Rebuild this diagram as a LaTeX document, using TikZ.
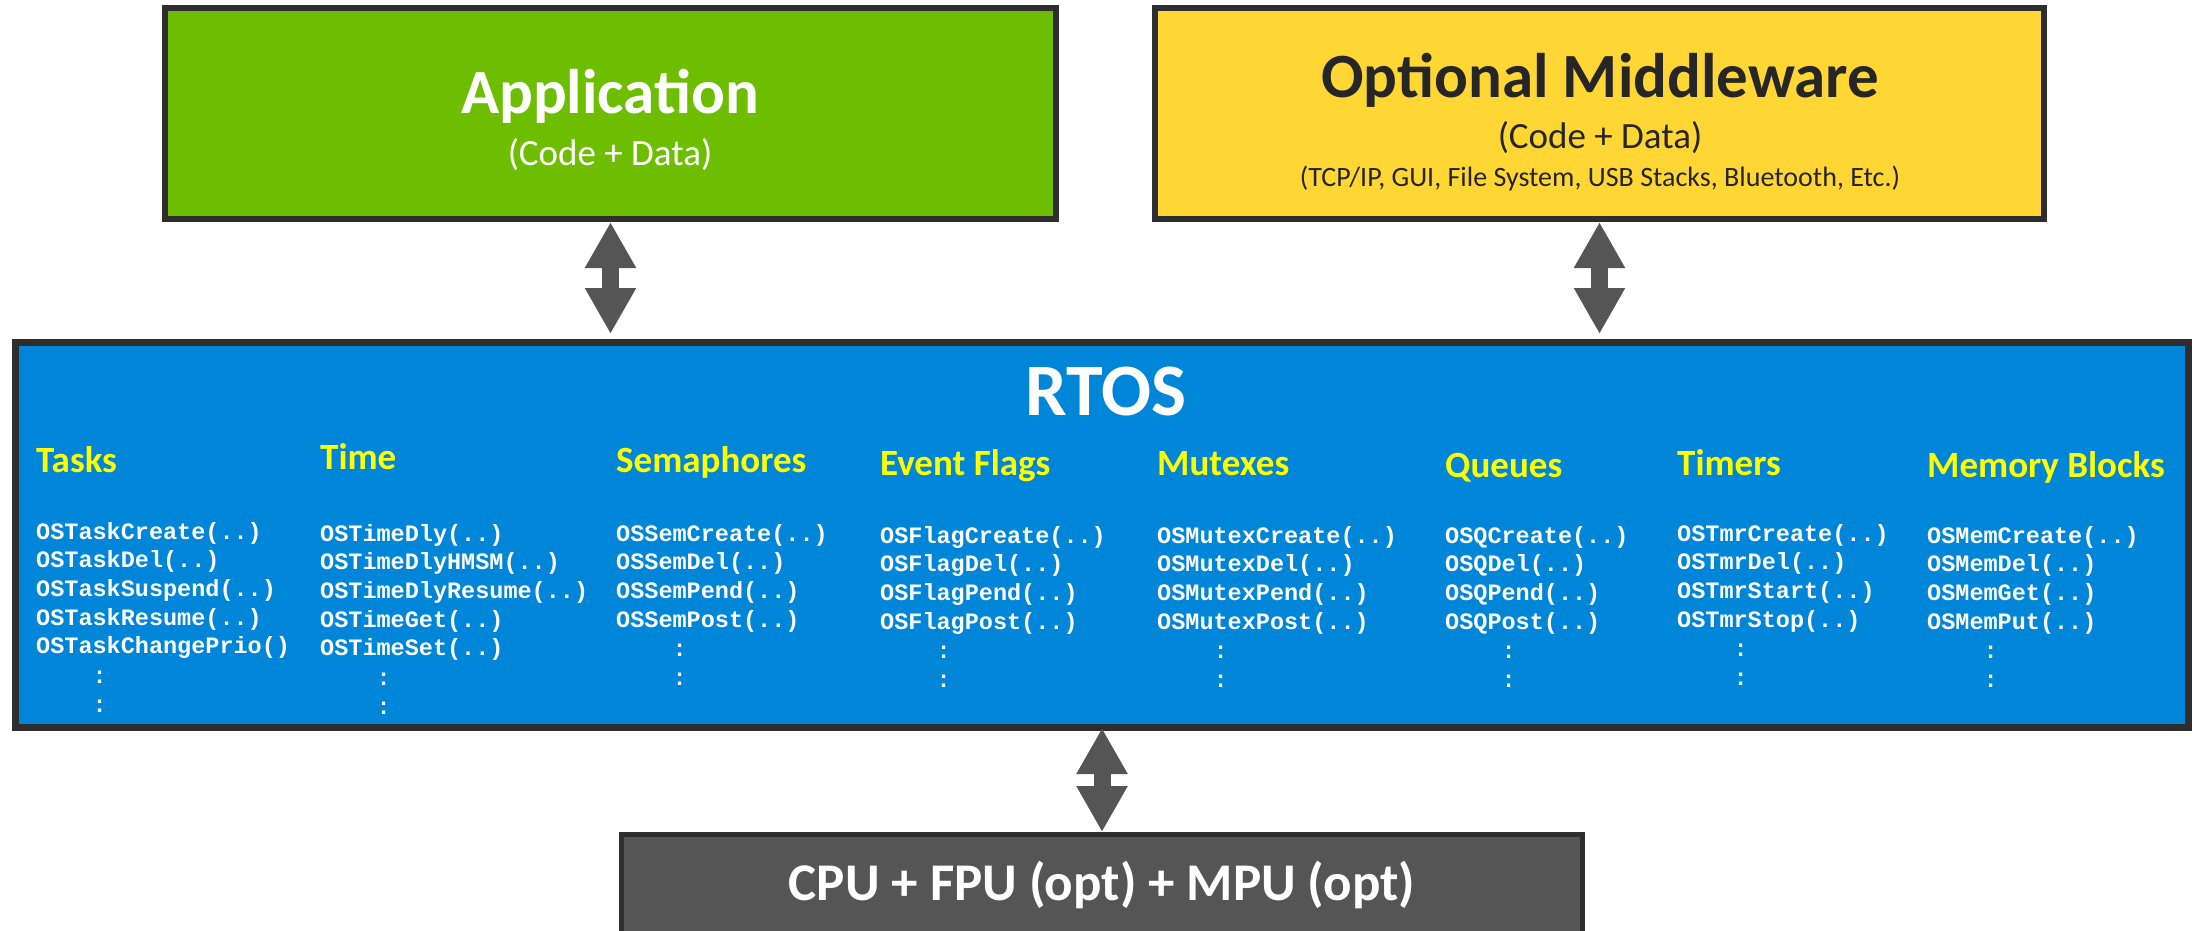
\documentclass[tikz,border=0pt]{standalone}
\usepackage{fontspec}
\setmainfont{Carlito}
\newfontfamily\codefont{Liberation Mono}
\usetikzlibrary{arrows.meta}
\definecolor{appgreen}{HTML}{6EBE00}
\definecolor{mwyellow}{HTML}{FFD633}
\definecolor{rtosblue}{HTML}{0086D8}
\definecolor{edgegrey}{HTML}{2E2E2E}
\definecolor{arrowgrey}{HTML}{555555}
\definecolor{cpugrey}{HTML}{555555}
\definecolor{headyellow}{HTML}{FFFF00}
\definecolor{mwtext}{HTML}{262626}
\tikzset{
  layer/.style={rectangle, draw=edgegrey, inner sep=0pt},
  title/.style={font=\bfseries\fontsize{63bp}{70bp}\selectfont, inner sep=0pt, anchor=base},
  sub/.style={font=\fontsize{37bp}{40bp}\selectfont, inner sep=0pt, anchor=base},
  head/.style={font=\bfseries\fontsize{37bp}{40bp}\selectfont, text=headyellow, inner sep=0pt, anchor=base west},
  code/.style={font=\codefont\bfseries\fontsize{23.5bp}{28bp}\selectfont, text=white, inner sep=0pt, anchor=base west},
  link/.style={draw=arrowgrey, line width=17bp, {Triangle[width=48bp,length=46bp]}-{Triangle[width=48bp,length=46bp]}},
}
% #1 name, #2 x, #3 heading baseline, #4 heading, #5 first code baseline, #6 number of lines, #7 list
\newcommand\apicol[7]{%
  \node[head] (#1-head) at (#2,#3) {#4};
  \foreach \fn [count=\i] in {#7} {
    \node[code] (#1-\i) at (#2, #5+28.7*\i-28.7) {\fn};
  }
  \node[code] (#1-dotsa) at (#2, #5+28.7*#6+1) {\phantom{XXXX}:};
  \node[code] (#1-dotsb) at (#2, #5+28.7*#6+29.7) {\phantom{XXXX}:};
}
\begin{document}
\begin{tikzpicture}[x=1bp,y=-1bp]
\useasboundingbox (0,0) rectangle (2201,930);

% Application
\node[layer, fill=appgreen, line width=6bp, minimum width=891bp, minimum height=211bp] (app) at (610.5,113.5) {};
\node[title, text=white] (apptitle) at (610,113) {Application};
\node[sub, text=white] (appsub) at (610,165) {(Code + Data)};

% Middleware
\node[layer, fill=mwyellow, line width=6bp, minimum width=889bp, minimum height=211bp] (mw) at (1599.5,113.5) {};
\node[title, text=mwtext] (mwtitle) at (1600,97) {Optional Middleware};
\node[sub, text=mwtext] (mwsub) at (1600,148) {(Code + Data)};
\node[sub, text=mwtext, font=\fontsize{28bp}{32bp}\selectfont] (mwlist) at (1600,186) {(TCP/IP, GUI, File System, USB Stacks, Bluetooth, Etc.)};

% RTOS
\node[layer, fill=rtosblue, line width=7bp, minimum width=2173bp, minimum height=385bp] (rtos) at (1102,535) {};
\node[title, text=white, font=\bfseries\fontsize{74bp}{80bp}\selectfont] (rtostitle) at (1106,415) {RTOS};

\apicol{tasks}{36}{472}{Tasks}{539}{5}{OSTaskCreate(..),OSTaskDel(..),OSTaskSuspend(..),OSTaskResume(..),OSTaskChangePrio()}
\apicol{time}{320}{469}{Time}{541}{5}{OSTimeDly(..),OSTimeDlyHMSM(..),OSTimeDlyResume(..),OSTimeGet(..),OSTimeSet(..)}
\apicol{sem}{616}{472}{Semaphores}{541}{4}{OSSemCreate(..),OSSemDel(..),OSSemPend(..),OSSemPost(..)}
\apicol{flags}{880}{475}{Event Flags}{543}{4}{OSFlagCreate(..),OSFlagDel(..),OSFlagPend(..),OSFlagPost(..)}
\apicol{mutex}{1157}{475}{Mutexes}{543}{4}{OSMutexCreate(..),OSMutexDel(..),OSMutexPend(..),OSMutexPost(..)}
\apicol{queues}{1445}{477}{Queues}{543}{4}{OSQCreate(..),OSQDel(..),OSQPend(..),OSQPost(..)}
\apicol{timers}{1677}{475}{Timers}{541}{4}{OSTmrCreate(..),OSTmrDel(..),OSTmrStart(..),OSTmrStop(..)}
\apicol{mem}{1927}{477}{Memory Blocks}{543}{4}{OSMemCreate(..),OSMemDel(..),OSMemGet(..),OSMemPut(..)}

% CPU
\node[layer, fill=cpugrey, line width=5bp, minimum width=961bp, minimum height=101bp] (cpu) at (1102,885) {};
\node[title, text=white, font=\bfseries\fontsize{53bp}{58bp}\selectfont] (cputext) at (1102,900) {CPU + FPU (opt) + MPU (opt)};

% connectors
\draw[link, shorten >=5bp] (app.south) -- (app.south |- rtos.north);
\draw[link, shorten >=5bp] (mw.south) -- (mw.south |- rtos.north);
\draw[link, shorten <=-3bp] (rtos.south) -- (cpu.north);
\end{tikzpicture}
\end{document}
